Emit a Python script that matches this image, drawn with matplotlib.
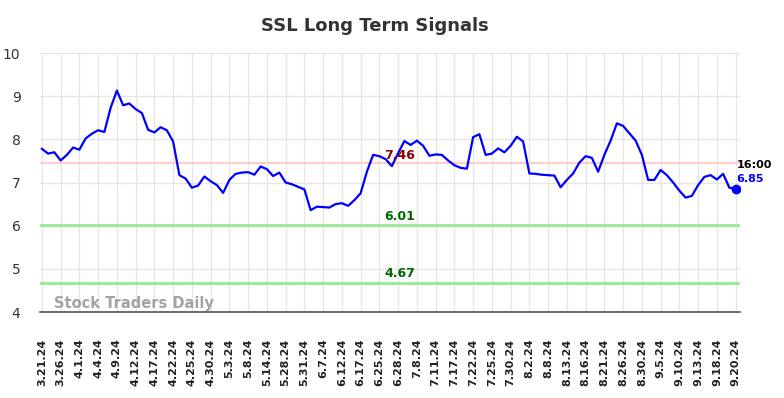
import matplotlib
matplotlib.use("Agg")
import matplotlib.pyplot as plt
import numpy as np

values = [
    7.78, 7.67, 7.70, 7.51, 7.64, 7.81, 7.76, 8.02, 8.13, 8.21,
    8.17, 8.73, 9.13, 8.79, 8.83, 8.70, 8.61, 8.22, 8.16, 8.28,
    8.21, 7.95, 7.17, 7.09, 6.88, 6.93, 7.14, 7.03, 6.94, 6.76,
    7.06, 7.20, 7.23, 7.24, 7.18, 7.37, 7.31, 7.15, 7.23, 7.00,
    6.96, 6.90, 6.84, 6.36, 6.44, 6.43, 6.42, 6.50, 6.52, 6.46,
    6.59, 6.75, 7.25, 7.64, 7.61, 7.54, 7.38, 7.68, 7.96, 7.87,
    7.97, 7.85, 7.62, 7.65, 7.64, 7.51, 7.40, 7.34, 7.32, 8.05,
    8.12, 7.64, 7.67, 7.79, 7.70, 7.85, 8.06, 7.95, 7.21, 7.20,
    7.18, 7.17, 7.16, 6.89, 7.06, 7.21, 7.46, 7.61, 7.57, 7.25,
    7.64, 7.97, 8.37, 8.31, 8.14, 7.97, 7.64, 7.06, 7.06, 7.29,
    7.17, 7.00, 6.81, 6.65, 6.69, 6.94, 7.13, 7.17, 7.07, 7.20,
    6.88, 6.85,
]
tick_labels = [
    "3.21.24", "3.26.24", "4.1.24", "4.4.24", "4.9.24", "4.12.24", "4.17.24",
    "4.22.24", "4.25.24", "4.30.24", "5.3.24", "5.8.24", "5.14.24", "5.28.24",
    "5.31.24", "6.7.24", "6.12.24", "6.17.24", "6.25.24", "6.28.24", "7.8.24",
    "7.11.24", "7.17.24", "7.22.24", "7.25.24", "7.30.24", "8.2.24", "8.8.24",
    "8.13.24", "8.16.24", "8.21.24", "8.26.24", "8.30.24", "9.5.24", "9.10.24",
    "9.13.24", "9.18.24", "9.20.24",
]
resistance = 7.46
supports = [6.01, 4.67]
last_time = "16:00"

x = np.arange(len(values))
tick_pos = np.arange(len(tick_labels)) * 3
tick_pos[-1] = len(values) - 1

fig = plt.figure(figsize=(7.84, 3.98), dpi=100)
ax = fig.add_axes([40 / 784, 86 / 398, 700 / 784, 259 / 398])

ax.set_ylim(4, 10)
ax.set_xlim(-0.3, 111.7)
ax.set_yticks([4, 5, 6, 7, 8, 9, 10])
ax.set_xticks(tick_pos)
ax.set_xticklabels(tick_labels, rotation=90, fontsize=8, fontweight="bold", color="#222222")
ax.tick_params(axis="x", length=0, pad=19)
ax.tick_params(axis="y", length=0, pad=14, labelsize=10, labelcolor="#333333")
ax.grid(True, color="#e6e6e6", linewidth=1)
ax.set_axisbelow(True)
for s in ["top", "right", "left"]:
    ax.spines[s].set_visible(False)
ax.spines["bottom"].set_color("#555555")
ax.spines["bottom"].set_linewidth(1.2)

ax.axhline(resistance, color="#ffcccc", linewidth=1.5, zorder=1)
for s in supports:
    ax.axhline(s, color="#90ee90", linewidth=2, zorder=1)

ax.plot(x, values, color="#0000ff", linewidth=1.6, zorder=3)
ax.plot(x[-1], values[-1], "o", color="#0000ff", markersize=6, zorder=4)

mid = 57.2
ax.text(mid, resistance + 0.02, f"{resistance:.2f}", color="#8b0000", fontsize=9,
        fontweight="bold", ha="center", va="bottom", zorder=5)
for s in supports:
    ax.text(mid, s + 0.06, f"{s:.2f}", color="#006400", fontsize=9,
            fontweight="bold", ha="center", va="bottom", zorder=5)

ax.text(x[-1] + 0.1, values[-1] + 0.55, last_time, color="black", fontsize=8,
        fontweight="bold", ha="left", va="center")
ax.text(x[-1] + 0.1, values[-1] + 0.24, f"{values[-1]:.2f}", color="#0000ff", fontsize=8,
        fontweight="bold", ha="left", va="center")

ax.text(2, 4.2, "Stock Traders Daily", color="#999999", fontsize=10.5,
        fontweight="bold", ha="left", va="center", alpha=0.9)

fig.text(374.5 / 784, 1 - 26 / 398, "SSL Long Term Signals", ha="center", va="center",
         fontsize=13, fontweight="bold", color="#333333")

fig.savefig("out.png", dpi=100)
